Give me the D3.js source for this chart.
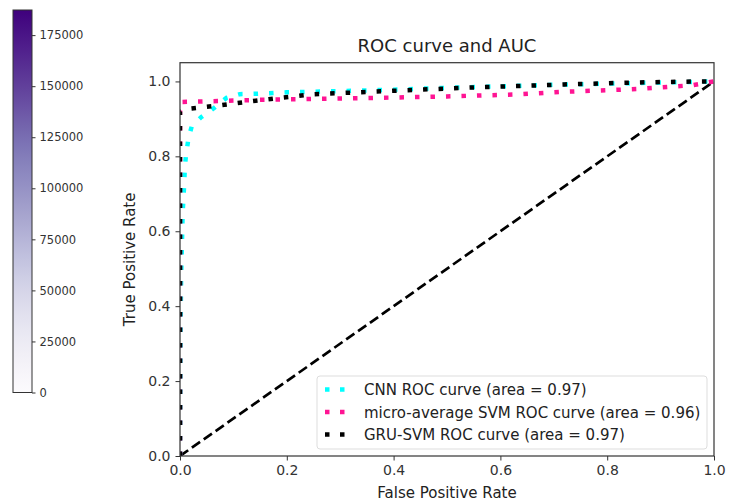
<!DOCTYPE html>
<html>
<head>
<meta charset="utf-8">
<script src="https://cdn.jsdelivr.net/npm/d3@7"></script>
<style>
  body { margin: 0; background: #fff; }
  text { font-family: "DejaVu Sans", sans-serif; }
</style>
</head>
<body>
<div id="chart"></div>
<script>
var width = 736;
var height = 501;

// ROC data
var cnnFpr = [0, 0.001, 0.002, 0.005, 0.008, 0.009, 0.011, 0.016, 0.022, 0.04, 0.062, 0.087, 0.112, 0.142, 0.2, 0.3, 0.4, 0.5, 0.6, 0.7, 0.8, 0.9, 1];
var cnnTpr = [0, 0.3, 0.47, 0.65, 0.73, 0.77, 0.80, 0.85, 0.88, 0.905, 0.927, 0.956, 0.966, 0.967, 0.971, 0.974, 0.978, 0.983, 0.987, 0.991, 0.994, 0.997, 1];

var svmFpr = [0, 0, 0.156, 0.24, 0.4, 0.5, 0.624, 0.715, 0.86, 0.96, 1];
var svmTpr = [0, 0.945, 0.951, 0.953, 0.957, 0.96, 0.965, 0.972, 0.98, 0.99, 1];

var gruFpr = [0, 0, 0.016, 0.074, 0.133, 0.192, 0.251, 0.35, 0.45, 0.55, 0.64, 0.72, 0.85, 0.97, 1];
var gruTpr = [0, 0.92, 0.927, 0.936, 0.947, 0.957, 0.966, 0.972, 0.978, 0.984, 0.988, 0.992, 0.997, 1, 1];

var seriesNames = ["CNN ROC curve (area = 0.97)", "micro-average SVM ROC curve (area = 0.96)", "GRU-SVM ROC curve (area = 0.97)"];
var seriesColors = ["#00ffff", "#ff1493", "#000000"];

var xTicks = [0, 0.2, 0.4, 0.6, 0.8, 1.0];
var yTicks = [0, 0.2, 0.4, 0.6, 0.8, 1.0];
var cbarTicks = [0, 25000, 50000, 75000, 100000, 125000, 150000, 175000];
var cbarMax = 187300;

var svg = d3.select("#chart")
    .append("svg")
    .attr("width", width)
    .attr("height", height);

//Plot area
var pLeft = 180, pRight = 714, pTop = 62.7, pBottom = 456;

var x = d3.scaleLinear().domain([0, 1]).range([pLeft, pRight]);
var y = d3.scaleLinear().domain([0, 1.05]).range([pBottom, pTop]);

var defs = svg.append("defs");
defs.append("clipPath")
    .attr("id", "plotclip")
    .append("rect")
    .attr("x", pLeft)
    .attr("y", pTop)
    .attr("width", pRight - pLeft)
    .attr("height", pBottom - pTop);

//Colorbar
var cbLeft = 13, cbRight = 32, cbTop = 10, cbBottom = 392.5;
var cb = d3.scaleLinear().domain([0, cbarMax]).range([cbBottom, cbTop]);

var grad = defs.append("linearGradient")
    .attr("id", "cbgrad")
    .attr("x1", 0).attr("y1", 1).attr("x2", 0).attr("y2", 0);
for (var i = 0; i <= 20; i++) {
    grad.append("stop")
        .attr("offset", i / 20)
        .attr("stop-color", d3.interpolatePurples(i / 20));
}

svg.append("rect")
    .attr("x", cbLeft)
    .attr("y", cbTop)
    .attr("width", cbRight - cbLeft)
    .attr("height", cbBottom - cbTop)
    .attr("fill", "url(#cbgrad)")
    .attr("stroke", "#333")
    .attr("stroke-width", 1);

var cbAxis = svg.append("g")
    .attr("transform", "translate(" + cbRight + ",0)")
    .call(d3.axisRight(cb).tickValues(cbarTicks).tickSize(3.5).tickPadding(4).tickFormat(d3.format("d")));
cbAxis.select(".domain").remove();
cbAxis.selectAll("text").attr("font-size", 11.5).attr("fill", "#333").attr("font-family", "DejaVu Sans");
cbAxis.selectAll("line").attr("stroke", "#333");

//Curves
var lineGen = d3.line()
    .x(function(d) { return x(d[0]); })
    .y(function(d) { return y(d[1]); });

var plot = svg.append("g").attr("clip-path", "url(#plotclip)");

//Diagonal
plot.append("path")
    .attr("d", lineGen([[0, 0], [1, 1]]))
    .attr("fill", "none")
    .attr("stroke", "#000")
    .attr("stroke-width", 2.7)
    .attr("stroke-dasharray", "10,4.5");

var allFpr = [cnnFpr, svmFpr, gruFpr];
var allTpr = [cnnTpr, svmTpr, gruTpr];

for (i = 0; i < 3; i++) {
    plot.append("path")
        .attr("d", lineGen(d3.zip(allFpr[i], allTpr[i])))
        .attr("fill", "none")
        .attr("stroke", seriesColors[i])
        .attr("stroke-width", 4.5)
        .attr("stroke-dasharray", "4.5,11");
}

//Axes
var xAxis = svg.append("g")
    .attr("transform", "translate(0," + pBottom + ")")
    .call(d3.axisBottom(x).tickValues(xTicks).tickSize(4.5).tickPadding(5).tickFormat(d3.format(".1f")));
var yAxis = svg.append("g")
    .attr("transform", "translate(" + pLeft + ",0)")
    .call(d3.axisLeft(y).tickValues(yTicks).tickSize(4.5).tickPadding(5).tickFormat(d3.format(".1f")));
[xAxis, yAxis].forEach(function(a) {
    a.select(".domain").remove();
    a.selectAll("text").attr("font-size", 14).attr("fill", "#333").attr("font-family", "DejaVu Sans");
    a.selectAll("line").attr("stroke", "#333");
});

svg.append("rect")
    .attr("x", pLeft)
    .attr("y", pTop)
    .attr("width", pRight - pLeft)
    .attr("height", pBottom - pTop)
    .attr("fill", "none")
    .attr("stroke", "#333")
    .attr("stroke-width", 1.2);

//Title and labels
svg.append("text")
    .attr("x", (pLeft + pRight) / 2)
    .attr("y", 52)
    .attr("text-anchor", "middle")
    .attr("font-size", 18)
    .attr("fill", "#222")
    .text("ROC curve and AUC");

svg.append("text")
    .attr("x", (pLeft + pRight) / 2)
    .attr("y", 498)
    .attr("text-anchor", "middle")
    .attr("font-size", 15)
    .attr("fill", "#222")
    .text("False Positive Rate");

svg.append("text")
    .attr("transform", "translate(135," + (pTop + pBottom) / 2 + ") rotate(-90)")
    .attr("text-anchor", "middle")
    .attr("font-size", 15)
    .attr("fill", "#222")
    .text("True Positive Rate");

//Legend
var legend = svg.append("g");
legend.append("rect")
    .attr("x", 317)
    .attr("y", 376)
    .attr("width", 390)
    .attr("height", 73)
    .attr("rx", 3)
    .attr("fill", "#fff")
    .attr("fill-opacity", 0.8)
    .attr("stroke", "#ddd")
    .attr("stroke-width", 1);

for (i = 0; i < 3; i++) {
    var ly = 389.5 + i * 22.5;
    legend.append("line")
        .attr("x1", 325)
        .attr("x2", 345)
        .attr("y1", ly)
        .attr("y2", ly)
        .attr("stroke", seriesColors[i])
        .attr("stroke-width", 4.5)
        .attr("stroke-dasharray", "4.5,10.5");
    legend.append("text")
        .attr("x", 364)
        .attr("y", ly + 5.5)
        .attr("font-size", 15)
        .attr("fill", "#222")
        .text(seriesNames[i]);
}
</script>
</body>
</html>
